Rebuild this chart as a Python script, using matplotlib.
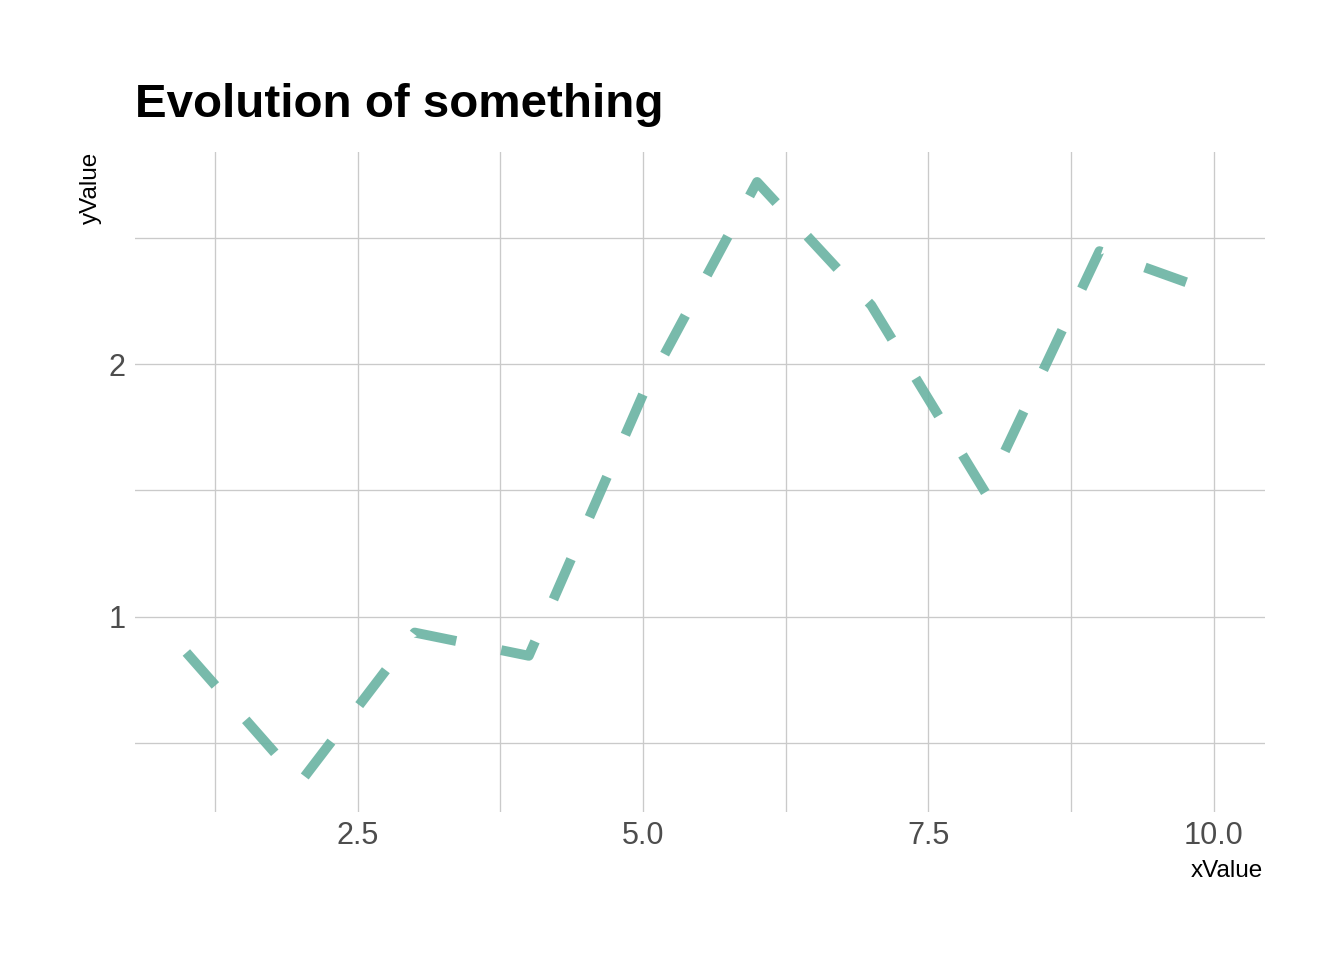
import matplotlib
matplotlib.use('Agg')
import matplotlib.pyplot as plt
from matplotlib.ticker import MultipleLocator, FormatStrFormatter

plt.rcParams['font.family'] = ['Liberation Sans', 'DejaVu Sans']

# values
x_vals = [1, 2, 3, 4, 5, 6, 7, 8, 9, 10]
y_vals = [0.858, 0.345, 0.937, 0.845, 1.88, 2.722, 2.234, 1.492, 2.448, 2.286]

title = 'Evolution of something'
x_label = 'xValue'
y_label = 'yValue'

W, H = 1344, 960
fig = plt.figure(figsize=(7, 5), dpi=192)

# panel placement (pixel coords of the reference)
left, right, top, bottom = 135, 1265, 152, 812
ax = fig.add_axes([left / W, 1 - bottom / H, (right - left) / W, (bottom - top) / H])

ax.plot(x_vals, y_vals, color='#69b3a2', alpha=0.9, lw=3.7,
        linestyle=(0, (4.45, 4.65)), dash_capstyle='butt', dash_joinstyle='round')
ax.margins(x=0.05, y=0.05)

ax.xaxis.set_major_locator(MultipleLocator(2.5))
ax.xaxis.set_minor_locator(MultipleLocator(1.25))
ax.yaxis.set_major_locator(MultipleLocator(1))
ax.yaxis.set_minor_locator(MultipleLocator(0.5))
ax.xaxis.set_major_formatter(FormatStrFormatter('%.1f'))
ax.yaxis.set_major_formatter(FormatStrFormatter('%d'))

ax.grid(which='both', color='#CACACA', lw=0.5)
ax.set_axisbelow(True)
for s in ax.spines.values():
    s.set_visible(False)
ax.tick_params(which='both', length=0)
ax.tick_params(axis='x', pad=3.5, labelsize=11.5, labelcolor='#4D4D4D')
ax.tick_params(axis='y', pad=3.5, labelsize=11.5, labelcolor='#4D4D4D')

fig.text(left / W, 1 - 117 / H, title, fontsize=17.8, fontweight='bold',
         ha='left', va='baseline')
fig.text(1263 / W, 1 - 877 / H, x_label, fontsize=9.1, ha='right', va='baseline')
fig.text(91 / W, 1 - 152 / H, y_label, fontsize=9.1, rotation=90,
         ha='center', va='top')

fig.savefig('out.png', dpi=192, facecolor='white')
